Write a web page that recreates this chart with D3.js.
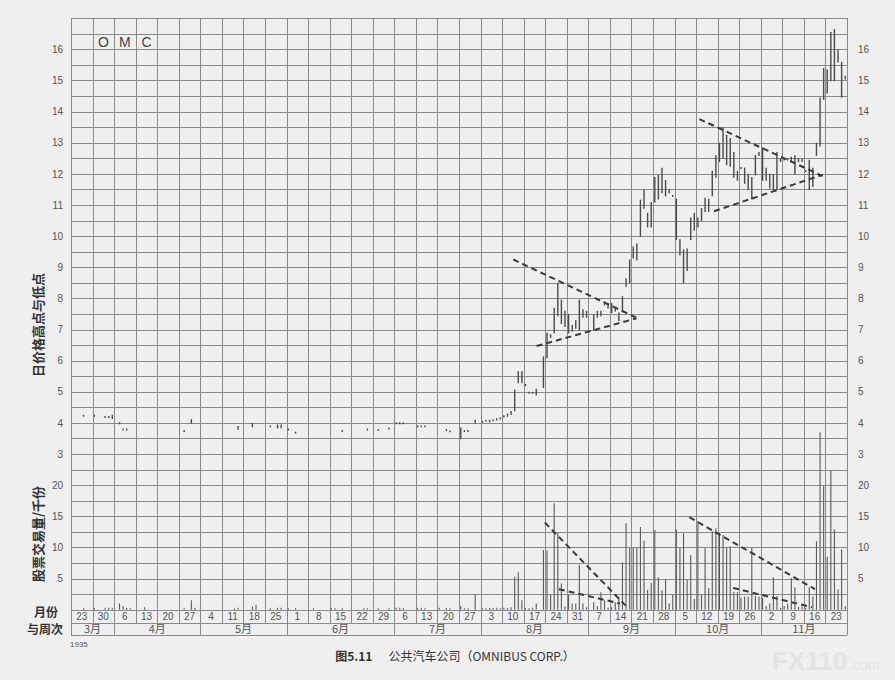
<!DOCTYPE html>
<html><head><meta charset="utf-8">
<script src="https://cdn.jsdelivr.net/npm/d3@7"></script>
<style>
body{margin:0;background:#efefef;}
svg{display:block;font-family:"Liberation Sans",Arial,sans-serif;}
</style></head><body>
<svg id="c" width="895" height="680"></svg>
<script>
// ---------------- data ----------------
const weekLabels = ["23","30","6","13","20","27","4","11","18","25","1","8","15","22","29","6","13","20","27","3","10","17","24","31","7","14","21","28","5","12","19","26","2","9","16","23"];
const monthLabels = ["3月","4月","5月","6月","7月","8月","9月","10月","11月"];
const monthWeekCounts = [2,4,4,5,4,5,4,4,4];
const priceTicks = [3,4,5,6,7,8,9,10,11,12,13,14,15,16];
const volumeTicks = [5,10,15,20];
const daysPerWeek = 6;

// trading day index (6 per week, week 0 = Mar 23), daily high, daily low
const priceDays = [3,6,9,10,11,13,14,15,31,33,46,50,55,57,58,60,62,75,82,85,88,90,91,92,96,97,98,104,105,108,109,110,112,114,115,116,117,118,119,120,121,122,123,124,125,126,127,128,129,131,132,133,134,135,136,137,138,139,140,141,142,143,145,146,147,148,149,150,151,152,153,154,155,156,157,158,159,160,161,162,163,164,165,166,167,168,169,170,171,172,173,174,175,176,177,178,179,180,181,182,183,184,185,186,187,188,189,190,191,192,193,194,195,196,197,198,199,200,201,202,203,204,205,206,207,208,209,210,211,212,213,214,215];
const priceHigh = [4.26,4.26,4.22,4.22,4.26,4.02,3.82,3.82,3.77,4.12,3.9,4.0,3.92,3.95,3.95,3.82,3.72,3.77,3.82,3.8,3.85,4.02,4.02,4.02,3.92,3.92,3.92,3.8,3.76,3.85,3.77,3.77,4.1,4.07,4.1,4.1,4.12,4.15,4.18,4.25,4.3,4.38,5.07,5.66,5.66,5.25,5.0,5.0,5.1,6.14,6.9,6.85,7.7,8.5,7.96,7.6,7.5,7.15,7.3,7.96,7.65,7.6,7.5,7.6,7.6,7.9,7.8,7.85,7.7,7.55,8.07,8.65,9.25,9.67,9.76,11.17,11.5,10.75,11.1,11.9,11.97,12.2,11.8,11.5,11.32,11.2,9.9,9.57,9.6,10.6,10.75,10.6,10.9,11.23,11.2,12.1,12.6,13.0,13.5,13.25,13.15,12.7,12.1,12.22,12.2,12.0,11.9,12.6,12.7,12.85,12.2,12.0,12.0,12.7,12.5,12.5,12.5,12.55,12.6,12.5,12.5,12.12,12.45,12.2,13.0,14.45,15.4,15.35,16.56,16.65,16.0,15.6,15.15];
const priceLow = [4.22,4.22,4.18,4.18,4.15,3.98,3.78,3.78,3.73,4.0,3.8,3.88,3.88,3.85,3.85,3.78,3.68,3.73,3.78,3.76,3.81,3.98,3.98,3.98,3.88,3.88,3.88,3.76,3.72,3.5,3.73,3.73,4.0,4.03,4.06,4.04,4.08,4.1,4.13,4.2,4.22,4.28,4.4,5.3,5.3,5.2,4.96,4.96,4.9,5.14,6.1,6.75,6.9,7.45,7.2,7.1,6.9,6.95,7.05,7.0,7.4,7.4,7.0,7.4,7.45,7.8,7.7,7.55,7.6,7.3,7.6,8.4,8.5,9.3,9.25,10.0,10.9,10.3,10.3,11.1,11.2,11.4,11.3,11.4,11.28,9.9,9.4,8.5,8.9,9.9,10.2,10.3,10.5,10.8,10.8,11.3,11.9,12.4,12.5,12.3,12.25,11.9,11.8,12.18,11.7,11.5,11.2,11.97,12.6,11.8,11.8,11.55,11.5,11.5,12.4,12.45,12.45,12.4,12.0,12.4,12.4,12.08,11.5,11.6,12.6,12.9,14.4,14.6,15.0,15.0,15.6,14.47,15.05];

// daily volume, thousands of shares
const volumeDays = [3,6,9,10,11,13,14,15,16,20,31,33,34,45,46,50,51,55,57,58,60,62,67,72,73,75,81,82,85,88,90,91,92,96,97,98,102,104,105,108,109,110,112,114,115,116,117,118,119,120,121,122,123,124,125,126,127,128,129,131,132,133,134,135,136,137,138,139,140,141,142,143,145,146,147,148,149,150,151,152,153,154,155,156,157,158,159,160,161,162,163,164,165,166,167,168,169,170,171,172,173,174,175,176,177,178,179,180,181,182,183,184,185,186,187,188,189,190,191,192,193,194,195,196,197,198,199,200,201,202,203,204,205,206,207,208,209,210,211,212,213,214,215];
const volumes = [0.2,0.2,0.3,0.3,0.3,1.0,0.6,0.3,0.2,0.4,0.2,1.5,0.3,0.2,0.3,0.5,0.8,0.2,0.3,0.3,0.2,0.2,0.2,0.2,0.2,0.2,0.2,0.2,0.2,0.2,0.3,0.3,0.2,0.2,0.3,0.2,0.3,0.2,0.2,0.6,0.2,0.2,2.4,0.2,0.2,0.3,0.2,0.3,0.2,0.3,0.3,0.4,5.3,6.0,1.5,0.2,0.2,0.3,1.0,9.6,9.5,2.4,17.1,12.3,4.2,0.5,2.4,1.0,1.0,7.2,1.0,0.4,1.2,0.6,2.8,1.5,0.3,0.4,1.2,1.9,7.6,13.9,9.9,9.9,9.9,13.3,11.1,3.2,4.3,12.8,5.2,3.1,4.9,1.0,2.4,12.9,9.9,12.3,4.8,8.8,1.7,14.2,2.4,9.9,3.5,12.6,13.1,12.3,12.0,9.9,10.2,2.9,2.8,1.9,2.1,2.1,9.9,2.2,2.1,1.9,0.6,1.0,5.2,2.2,0.3,0.6,1.0,5.1,3.6,0.5,0.5,0.3,3.6,2.1,11.0,28.5,19.9,8.5,22.3,12.9,3.3,9.7,0.6];

// hand-drawn trend lines: [startDay, startValue, endDay, endValue]
const priceTrendLines = [[123.1,9.25,157.4,7.38],[129.6,6.47,157.4,7.36],[174.9,13.76,209.2,11.93],[179.0,10.8,209.2,11.97]];
const volumeTrendLines = [[131.9,14.0,154.5,0.6],[135.8,3.3,152.8,1.0],[172.1,14.85,207.1,3.3],[184.3,3.5,206.2,0.4]];

// ---------------- layout ----------------
const L = 71, R = 847, T = 18.2, B = 609.7;
const nWeeks = weekLabels.length;
const svg = d3.select("#c");
const x = d3.scaleLinear().domain([0, nWeeks * daysPerWeek]).range([L, R]);
const yP = d3.scaleLinear().domain([-2, 17]).range([B, T]);
const yV = d3.scaleLinear().domain([0, 20]).range([yP(-2), yP(2)]);
const gridColor = "#8a8a8a";

// grid
const grid = svg.append("g").attr("shape-rendering","crispEdges").attr("stroke", gridColor).attr("stroke-width",1);
d3.range(-2, 17.01, 0.5).forEach(v => {
  grid.append("line").attr("x1",L).attr("x2",R).attr("y1",Math.round(yP(v))+0.5).attr("y2",Math.round(yP(v))+0.5);
});
d3.range(0, nWeeks + 1).forEach(w => {
  const xx = Math.round(x(w*daysPerWeek))+0.5;
  grid.append("line").attr("x1",xx).attr("x2",xx).attr("y1",T).attr("y2",B+13);
});
// bottom table rows
const rowW = B + 13, rowM = B + 25.5;
grid.append("line").attr("x1",L).attr("x2",R).attr("y1",Math.round(rowW)+0.5).attr("y2",Math.round(rowW)+0.5);
grid.append("line").attr("x1",L).attr("x2",R).attr("y1",Math.round(rowM)+0.5).attr("y2",Math.round(rowM)+0.5);
let cum = 0;
const monthEdges = [0];
monthWeekCounts.forEach(c => { cum += c; monthEdges.push(cum); });
monthEdges.forEach(w => {
  const xx = Math.round(x(w*daysPerWeek))+0.5;
  grid.append("line").attr("x1",xx).attr("x2",xx).attr("y1",rowW).attr("y2",rowM);
});

// week labels
svg.append("g").selectAll("text").data(weekLabels).join("text")
  .attr("x",(d,i)=>x((i+0.5)*daysPerWeek)).attr("y",B+10)
  .attr("text-anchor","middle").attr("font-size",10).attr("fill","#555").text(d=>d);
// month labels
svg.append("g").selectAll("text").data(monthLabels).join("text")
  .attr("x",(d,i)=>x((monthEdges[i]+monthEdges[i+1])/2*daysPerWeek)).attr("y",rowM-2)
  .attr("text-anchor","middle").attr("font-size",11).attr("fill","#555")
  .attr("font-family","'Noto Sans CJK SC',sans-serif").text(d=>d);

// axes
function styleAxis(g){
  g.select(".domain").remove();
  g.selectAll("text").attr("fill","#555").attr("font-size",10).attr("font-family","'Liberation Sans',Arial,sans-serif");
}
svg.append("g").attr("transform",`translate(${L},0)`)
  .call(d3.axisLeft(yP).tickValues(priceTicks).tickSize(0).tickPadding(8)).call(styleAxis);
svg.append("g").attr("transform",`translate(${R},0)`)
  .call(d3.axisRight(yP).tickValues(priceTicks).tickSize(0).tickPadding(11)).call(styleAxis);
svg.append("g").attr("transform",`translate(${L},0)`)
  .call(d3.axisLeft(yV).tickValues(volumeTicks).tickSize(0).tickPadding(8)).call(styleAxis);
svg.append("g").attr("transform",`translate(${R},0)`)
  .call(d3.axisRight(yV).tickValues(volumeTicks).tickSize(0).tickPadding(11)).call(styleAxis);

// volume bars
svg.append("g").selectAll("line").data(volumeDays).join("line")
  .attr("x1",(d)=>x(d+0.5)).attr("x2",(d)=>x(d+0.5))
  .attr("y1",yV(0)).attr("y2",(d,i)=>Math.min(yV(volumes[i]), yV(0)-1.5))
  .attr("stroke","#5a5a5a").attr("stroke-width",1.1);

// price bars
svg.append("g").selectAll("line").data(priceDays).join("line")
  .attr("x1",(d)=>x(d+0.5)).attr("x2",(d)=>x(d+0.5))
  .attr("y1",(d,i)=>yP(priceLow[i])+0.7).attr("y2",(d,i)=>Math.min(yP(priceHigh[i]), yP(priceLow[i])-0.8))
  .attr("stroke","#4a4a4a").attr("stroke-width",1.4);

// trend lines
const tl = svg.append("g").attr("stroke","#3a3a3a").attr("stroke-width",2).attr("stroke-dasharray","6,4").attr("fill","none");
priceTrendLines.forEach(t => tl.append("line").attr("x1",x(t[0])).attr("y1",yP(t[1])).attr("x2",x(t[2])).attr("y2",yP(t[3])));
volumeTrendLines.forEach(t => tl.append("line").attr("x1",x(t[0])).attr("y1",yV(t[1])).attr("x2",x(t[2])).attr("y2",yV(t[3])));

// ticker letters
["O","M","C"].forEach((s,i) => svg.append("text").attr("x",x((i+1.5)*daysPerWeek)).attr("y",47)
  .attr("text-anchor","middle").attr("font-size",14).attr("fill","#444").text(s));

// titles
const cjk = "'Noto Sans CJK SC','Noto Sans',sans-serif";
svg.append("text").attr("transform","translate(43,325) rotate(-90)").attr("text-anchor","middle")
  .attr("font-family",cjk).attr("font-size",13).attr("font-weight","bold").attr("fill","#333").text("日价格高点与低点");
svg.append("text").attr("transform","translate(43,534) rotate(-90)").attr("text-anchor","middle")
  .attr("font-family",cjk).attr("font-size",13).attr("font-weight","bold").attr("fill","#333").text("股票交易量/千份");
svg.append("text").attr("x",46).attr("y",617).attr("text-anchor","middle")
  .attr("font-family",cjk).attr("font-size",12).attr("font-weight","bold").attr("fill","#333").text("月份");
svg.append("text").attr("x",45).attr("y",634).attr("text-anchor","middle")
  .attr("font-family",cjk).attr("font-size",12).attr("font-weight","bold").attr("fill","#333").text("与周次");
svg.append("text").attr("x",70).attr("y",647).attr("font-size",8).attr("fill","#555").text("1935");

// caption
const cap = svg.append("text").attr("x",455).attr("y",661).attr("text-anchor","middle")
  .attr("font-family",cjk).attr("font-size",12).attr("fill","#333");
cap.append("tspan").attr("font-weight","bold").attr("font-family","'Noto Sans CJK SC',serif").text("图5.11");
cap.append("tspan").attr("dx",16).text("公共汽车公司（OMNIBUS CORP.）");

// watermark
svg.append("text").attr("x",772).attr("y",670).attr("font-size",26).attr("font-weight","bold").attr("fill","#e3e3e3").text("FX110");
svg.append("text").attr("x",849).attr("y",670).attr("font-size",14).attr("fill","#e3e3e3").text(".com");
</script>
</body></html>
